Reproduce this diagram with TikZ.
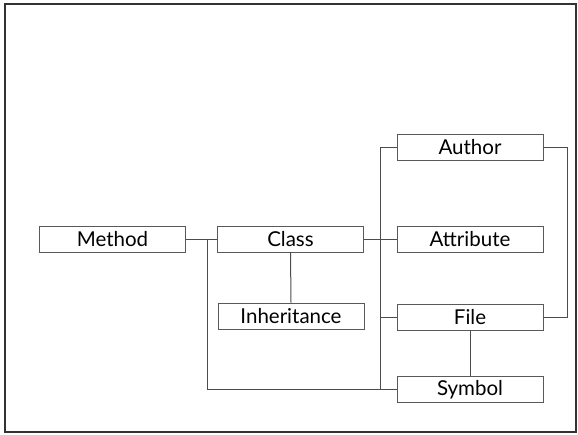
\documentclass[tikz,border=0pt]{standalone}
\usepackage{fontspec}
\setmainfont{Lato}
\begin{document}
\begin{tikzpicture}[x=1pt,y=-1pt,
  box/.style={draw=black!65, line width=0.9pt, fill=white, minimum width=146pt, minimum height=26pt, inner sep=0pt, font=\fontsize{20.5}{22}\selectfont},
  conn/.style={draw=black!70, line width=1pt}]
\useasboundingbox (0,0) rectangle (578,434);
\draw[black!80, line width=1.2pt] (5,4) rectangle (576,432);
\node[box] (method) at (112.5,239) {Method};
\node[box] (class) at (290.5,239) {Class};
\node[box] (inh) at (291,316) {Inheritance};
\node[box] (author) at (470,147) {Author};
\node[box] (attr) at (470,239) {Attribute};
\node[box] (file) at (470,317) {File};
\node[box] (symbol) at (470,389.5) {Symbol};
\coordinate (ja) at (207,239);
\coordinate (vb) at (380,389.5);
\coordinate (rt) at (567,147);
\draw[conn] (method.east) -- (class.west);
\draw[conn] (class.south) -- (inh.north);
\draw[conn] (ja) |- (symbol.west);
\draw[conn] (class.east) -- (attr.west);
\draw[conn] (author.west) -| (vb) -- (symbol.west);
\draw[conn] (file.west) -- (file.west -| vb);
\draw[conn] (file.south) -- (symbol.north);
\draw[conn] (author.east) -- (rt) |- (file.east);
\end{tikzpicture}
\end{document}
